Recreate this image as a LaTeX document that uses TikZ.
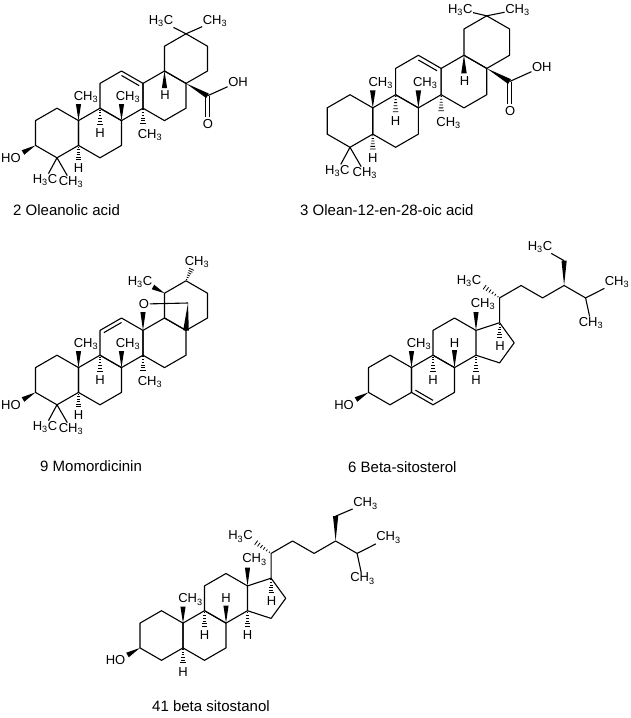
\documentclass[tikz,border=0pt]{standalone}
\usepackage{fontspec}
\setmainfont{Liberation Sans}
\usetikzlibrary{calc}
\tikzset{
  bond/.style={line width=1.1pt,line join=round},
  hb/.style={line width=0.8pt},
  atom/.style={inner sep=0.5pt,font=\fontsize{13}{14}\selectfont},
  lbl/.style={anchor=west,inner sep=0pt,font=\fontsize{15}{17}\selectfont}
}
\newcommand\hexr[3]{%
 \coordinate (#1c) at (#2,#3);
 \coordinate (#1t) at (#2,#3-24.8);
 \coordinate (#1tr) at (#2+21.5,#3-12.4);
 \coordinate (#1br) at (#2+21.5,#3+12.4);
 \coordinate (#1b) at (#2,#3+24.8);
 \coordinate (#1bl) at (#2-21.5,#3+12.4);
 \coordinate (#1tl) at (#2-21.5,#3-12.4);
 \draw[bond] (#1t)--(#1tr)--(#1br)--(#1b)--(#1bl)--(#1tl)--cycle;}
\newcommand\wdg[2]{\fill (#1) -- ($(#2)!2.6pt!90:(#1)$) -- ($(#2)!2.6pt!-90:(#1)$) -- cycle;}
\newcommand\hsh[2]{\foreach \t in {0.1,0.26,0.42,0.58,0.74,0.9}{%
  \pgfmathsetmacro\w{0.4+2.4*\t}
  \path ($(#1)!\t!(#2)$) coordinate (hp);
  \draw[hb] ($(hp)!\w pt!90:(#1)$) -- ($(hp)!\w pt!-90:(#1)$);}}
\newcommand\dbl[3]{\draw[bond] ($(#1)!0.82!(#2)$) -- ($(#1)!0.82!(#3)$);}
\newcommand\CH{CH\textsubscript{3}}
\newcommand\HC{H\textsubscript{3}C}
% triterpene core
\newcommand\tricore[1]{%
 \hexr{#1A}{0}{0}\hexr{#1B}{43}{0}\hexr{#1C}{64.5}{-37.2}\hexr{#1D}{107.5}{-37.2}\hexr{#1E}{129}{-74.4}
 \node[atom] (#1m4a) at (-12,47) {\HC};
 \node[atom] (#1m4b) at (14,49) {\CH};
 \draw[bond] (#1Ab) -- (#1m4a); \draw[bond] (#1Ab) -- (#1m4b);
 \coordinate (#1h5) at (21.5,28); \hsh{#1Abr}{#1h5}; \node[atom] (#1H5) at (21.5,35) {H};
 \coordinate (#1w10) at (21.5,-29); \wdg{#1Atr}{#1w10}; \node[atom] (#1M10) at (29,-36) {\CH};
 \coordinate (#1h9) at (43,-7); \hsh{#1Bt}{#1h9}; \node[atom] (#1H9) at (43,0) {H};
 \coordinate (#1w8) at (64.5,-29); \wdg{#1Btr}{#1w8}; \node[atom] (#1M8) at (71,-36) {\CH};
 \coordinate (#1h14) at (86,-8); \hsh{#1Cbr}{#1h14}; \node[atom] (#1M14) at (93,2) {\CH};
}
\newcommand\oleanE[2]{%
 \dbl{#1Cc}{#1Ct}{#1Ctr}
 \coordinate (#1w18) at (107.5,-45); \wdg{#1Dt}{#1w18}; \node[atom] (#1H18) at (108,-38) {H};
 \coordinate (#1K) at (150.5,-37.2); \wdg{#1Dtr}{#1K};
 \node[atom] (#1OH) at (181,-51) {OH};
 \node[atom] (#1O) at (151,-9) {O};
 \draw[bond] (#1K) -- (#1OH);
 \coordinate (#1Oc) at (150.5,-16);
 \draw[bond] ($(#1K)!1.6pt!90:(#1Oc)$) -- ($(#1Oc)!1.6pt!-90:(#1K)$);
 \draw[bond] ($(#1K)!1.6pt!-90:(#1Oc)$) -- ($(#1Oc)!1.6pt!90:(#1K)$);
 \node[atom] (#1m20a) at (104,#2) {\HC};
 \node[atom] (#1m20b) at (158,#2) {\CH};
 \draw[bond] (#1Et) -- (#1m20a); \draw[bond] (#1Et) -- (#1m20b);
}
\newcommand\hydroxy[1]{%
 \coordinate (#1wo) at (-34,19.5); \wdg{#1Abl}{#1wo}; \node[atom] (#1HO) at (-46,25) {HO};}
% steroid
\newcommand\sterol[1]{%
 \hexr{#1A}{0}{0}\hexr{#1B}{43}{0}\hexr{#1C}{64.5}{-37.2}
 \coordinate (#1c17) at (109.6,-57.3); \coordinate (#1c16) at (124.2,-37.2); \coordinate (#1c15) at (109.6,-17.1);
 \draw[bond] (#1Ctr) -- (#1c17) -- (#1c16) -- (#1c15) -- (#1Cbr);
 \hydroxy{#1}
 \coordinate (#1w10) at (21.5,-29); \wdg{#1Atr}{#1w10}; \node[atom] (#1M10) at (29,-36) {\CH};
 \coordinate (#1h9) at (43,-7); \hsh{#1Bt}{#1h9}; \node[atom] (#1H9) at (43,0) {H};
 \coordinate (#1w8) at (64.5,-30); \wdg{#1Btr}{#1w8}; \node[atom] (#1H8) at (64.5,-37) {H};
 \coordinate (#1h14) at (86,-7); \hsh{#1Cbr}{#1h14}; \node[atom] (#1H14) at (86,0) {H};
 \coordinate (#1w13) at (86,-68); \wdg{#1Ctr}{#1w13}; \node[atom] (#1M13) at (93,-76) {\CH};
 \coordinate (#1h17) at (109.6,-41); \hsh{#1c17}{#1h17}; \node[atom] (#1H17) at (110,-34) {H};
 \coordinate (#1c20) at (109.6,-82.1); \coordinate (#1c22) at (131.1,-94.5);
 \coordinate (#1c23) at (152.6,-82.1); \coordinate (#1c24) at (174.1,-94.5);
 \coordinate (#1c25) at (195.6,-82.1); \coordinate (#1c28) at (174.1,-119.3);
 \draw[bond] (#1c17) -- (#1c20) -- (#1c22) -- (#1c23) -- (#1c24) -- (#1c25);
 \coordinate (#1h20) at (93,-94); \hsh{#1c20}{#1h20}; \node[atom] (#1M21) at (79,-99) {\HC};
 \wdg{#1c24}{#1c28}
 \node[atom] (#1M26) at (227,-98) {\CH}; \node[atom] (#1M27) at (201,-57) {\CH};
 \draw[bond] (#1c25) -- (#1M26); \draw[bond] (#1c25) -- (#1M27);
}
\begin{document}
\begin{tikzpicture}[x=1pt,y=-1pt]
\useasboundingbox (0,0) rectangle (630,718);
% 1
\begin{scope}[shift={(57,133)}]
 \tricore{a}\oleanE{a}{-112}\hydroxy{a}
\end{scope}
\node[lbl] (la) at (13,210) {2 Oleanolic acid};
% 2
\begin{scope}[shift={(350,121)},scale=1.06]
 \tricore{b}\oleanE{b}{-105}
\end{scope}
\node[lbl] (lb) at (300,210) {3 Olean-12-en-28-oic acid};
% 3
\begin{scope}[shift={(57,380)}]
 \tricore{c}\hydroxy{c}
 \dbl{cCc}{cCtl}{cCt}
 \coordinate (cwo) at (86,-68); \wdg{cCtr}{cwo};
 \node[atom] (cO) at (87,-76) {O};
 \coordinate (cP) at (131,-77);
 \draw[bond] (cO) -- (cP);
 \fill (cP) -- ($(cEb)!2.8pt!90:(cP)$) -- ($(cEb)!2.8pt!-90:(cP)$) -- cycle;
 \coordinate (cwm) at (96,-93); \wdg{cEtl}{cwm}; \node[atom] (cMa) at (83,-98) {\HC};
 \coordinate (chm) at (135,-112); \hsh{cEt}{chm}; \node[atom] (cMb) at (140,-118) {\CH};
\end{scope}
\node[lbl] (lc) at (40,466) {9 Momordicinin};
% 4
\begin{scope}[shift={(390,380)}]
 \sterol{d}
 \dbl{dBc}{dBbl}{dBb}
 \node[atom] (dM29) at (150,-133) {\HC};
 \draw[bond] (dc28) -- (dM29);
\end{scope}
\node[lbl] (ld) at (348,467) {6 Beta-sitosterol};
% 5
\begin{scope}[shift={(161.5,635.5)}]
 \sterol{e}
 \coordinate (eh5) at (21.5,29); \hsh{eAbr}{eh5}; \node[atom] (eH5) at (21.5,37) {H};
 \node[atom] (eM29) at (204,-132) {\CH};
 \draw[bond] (ec28) -- (eM29);
\end{scope}
\node[lbl] (le) at (152,706) {41 beta sitostanol};
\end{tikzpicture}
\end{document}
